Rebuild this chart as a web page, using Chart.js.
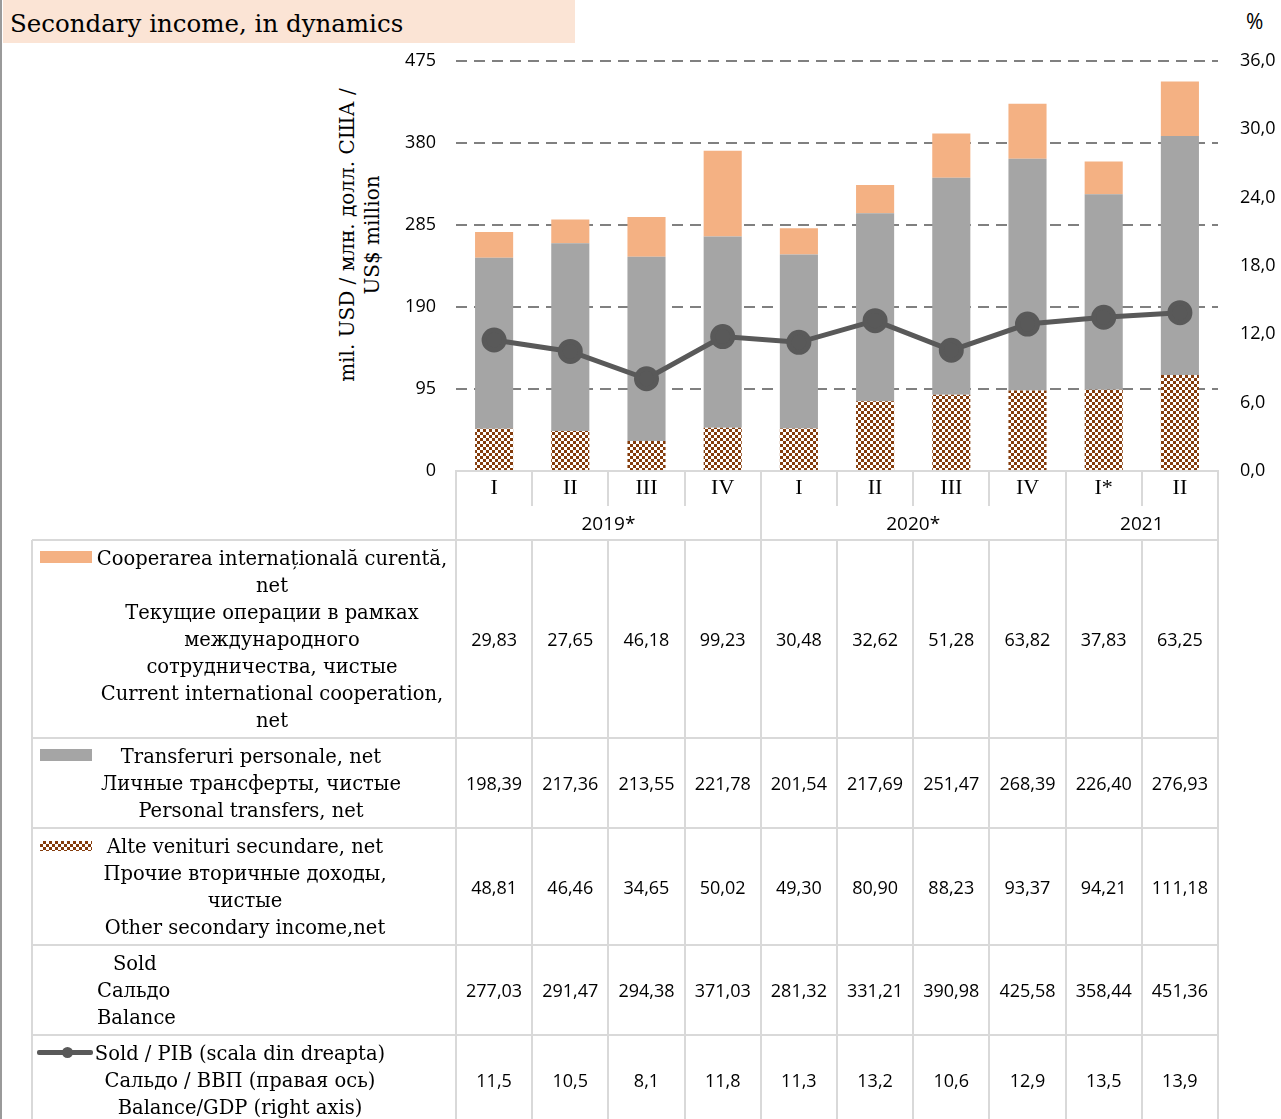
<!DOCTYPE html>
<html>
<head>
<meta charset="utf-8">
<script src="https://cdn.jsdelivr.net/npm/chart.js@4.4.1/dist/chart.umd.min.js"></script>
<style>
  body { margin: 0; background: #fff; }
  #page { position: relative; width: 1281px; height: 1119px; overflow: hidden; background: #fff; font-family: "DejaVu Serif", serif; color: #000; }
  #chart { position: absolute; left: 0; top: 0; }
  .abs { position: absolute; }
  .lbl { position: absolute; display: flex; flex-direction: column; justify-content: center; font-size: 19.5px; line-height: 27px; white-space: nowrap; }
  .num { position: absolute; display: flex; align-items: center; justify-content: center; font-family: "Open Sans", sans-serif; font-size: 18px; }
  .ln { position: absolute; background: #d9d9d9; }
</style>
</head>
<body>
<div id="page">
  <div class="abs" style="left:0;top:0;width:2px;height:1119px;background:#9a9a9a"></div>
  <div class="abs" style="left:3px;top:0;width:572px;height:43px;background:#fbe4d5"></div>
  <div class="abs" style="left:10px;top:8px;font-size:24.5px;line-height:32px">Secondary income, in dynamics</div>
  <div class="abs" style="left:1246px;top:7px;font-family:'Open Sans',sans-serif;font-size:21px">%</div>
  <div class="abs" id="ytitle" style="left:360px;top:236px;width:0;height:0">
    <div style="position:absolute;left:-200px;top:-26px;width:400px;text-align:center;font-size:20px;line-height:25px;transform:rotate(-90deg);white-space:nowrap">mil. USD / млн. долл. США /<br>US$ million</div>
  </div>
  <canvas id="chart" width="1281" height="510"></canvas>
</div>
<script>
var quarters = ["I", "II", "III", "IV", "I", "II", "III", "IV", "I*", "II"];
var years = ["2019*", "2020*", "2021"];
var yearSpans = [4, 4, 2];

var coop = [29.83, 27.65, 46.18, 99.23, 30.48, 32.62, 51.28, 63.82, 37.83, 63.25];
var personal = [198.39, 217.36, 213.55, 221.78, 201.54, 217.69, 251.47, 268.39, 226.40, 276.93];
var other = [48.81, 46.46, 34.65, 50.02, 49.30, 80.90, 88.23, 93.37, 94.21, 111.18];
var balance = [277.03, 291.47, 294.38, 371.03, 281.32, 331.21, 390.98, 425.58, 358.44, 451.36];
var ratio = [11.5, 10.5, 8.1, 11.8, 11.3, 13.2, 10.6, 12.9, 13.5, 13.9];

var labelCoop = ["Cooperarea internațională curentă,", "net", "Текущие операции в рамках", "международного", "сотрудничества, чистые", "Current international cooperation,", "net"];
var labelPersonal = ["Transferuri personale, net", "Личные трансферты, чистые", "Personal transfers, net"];
var labelOther = ["Alte venituri secundare, net", "Прочие вторичные доходы,", "чистые", "Other secondary income,net"];
var labelBalance = ["Sold", "Сальдо", "Balance"];
var labelRatio = ["Sold / PIB (scala din dreapta)", "Сальдо / ВВП (правая ось)", "Balance/GDP (right axis)"];

var orange = "#f4b183";
var grey = "#a5a5a5";
var brown = "#843c0c";
var lineCol = "#595959";

var ctx = document.getElementById("chart").getContext("2d");

// checker pattern for "other" bars
var pc = document.createElement("canvas");
pc.width = 6; pc.height = 6;
var pg = pc.getContext("2d");
pg.fillStyle = "#fff"; pg.fillRect(0, 0, 6, 6);
pg.fillStyle = brown; pg.fillRect(0, 0, 3, 3); pg.fillRect(3, 3, 3, 3);
var checker = ctx.createPattern(pc, "repeat");

function fmt(v, d) { return v.toFixed(d).replace(".", ","); }

var chart = new Chart(ctx, {
  data: {
    labels: quarters,
    datasets: [
      { type: "bar", label: "Alte venituri secundare, net", data: other, backgroundColor: checker, yAxisID: "y", order: 1 },
      { type: "bar", label: "Transferuri personale, net", data: personal, backgroundColor: grey, yAxisID: "y", order: 1 },
      { type: "bar", label: "Cooperarea internațională curentă, net", data: coop, backgroundColor: orange, yAxisID: "y", order: 1 },
      { type: "line", label: "Sold / PIB", data: ratio, yAxisID: "y1", borderColor: lineCol, backgroundColor: lineCol,
        borderWidth: 5, pointRadius: 10, pointHoverRadius: 10, pointBackgroundColor: lineCol, order: 0 }
    ]
  },
  options: {
    responsive: false,
    animation: false,
    barPercentage: 0.5,
    categoryPercentage: 1.0,
    layout: { padding: { top: 61, left: 0, right: 0, bottom: 0 } },
    plugins: { legend: { display: false }, tooltip: { enabled: false } },
    scales: {
      x: {
        stacked: true,
        offset: true,
        grid: { offset: true, drawOnChartArea: false, drawTicks: true, tickLength: 35, color: "#d9d9d9", lineWidth: 2 },
        border: { display: true, color: "#d9d9d9", width: 2 },
        ticks: { font: { family: "Liberation Serif", size: 22 }, color: "#000", padding: -31, maxRotation: 0, autoSkip: false },
        afterFit: function (s) { s.height = 39; }
      },
      y: {
        stacked: true,
        min: 0, max: 475,
        ticks: { stepSize: 95, font: { family: "Open Sans", size: 18 }, color: "#000", padding: 20 },
        grid: { drawTicks: false, lineWidth: 2, color: function (c) { return c.tick && c.tick.value === 0 ? "rgba(0,0,0,0)" : "#808080"; } },
        border: { display: false, dash: [11, 7] },
        afterFit: function (s) { s.width = 456; }
      },
      y1: {
        position: "right",
        min: 0, max: 36,
        ticks: { stepSize: 6, font: { family: "Open Sans", size: 18 }, color: "#000", padding: 22,
          callback: function (v) { return fmt(v, 1); } },
        grid: { display: false, drawTicks: false },
        border: { display: false },
        afterFit: function (s) { s.width = 63; }
      }
    }
  }
});

// table under the chart, columns taken from the x scale
var page = document.getElementById("page");
var xs = chart.scales.x;
var step = (xs.right - xs.left) / quarters.length;
var edges = [];
for (var i = 0; i < quarters.length; i++) edges.push(xs.getPixelForValue(i) - step / 2);
edges.push(xs.getPixelForValue(quarters.length - 1) + step / 2);
var tableLeft = 32;
var yearTop = xs.bottom - 4;
var rowTops = [540, 738, 828, 945, 1035, 1125];

function add(cls, l, t, w, h, html, extra) {
  var d = document.createElement("div");
  d.className = cls;
  d.style.left = l + "px"; d.style.top = t + "px";
  d.style.width = w + "px"; d.style.height = h + "px";
  if (html) d.innerHTML = html;
  if (extra) d.style.cssText += extra;
  page.appendChild(d);
  return d;
}
function hline(x1, x2, y) { add("ln", x1, y - 1, x2 - x1 + 1, 2); }
function vline(x, y1, y2) { add("ln", x - 1, y1, 2, y2 - y1); }

// year row
var k = 0;
vline(edges[0], yearTop, rowTops[0]);
years.forEach(function (yr, j) {
  var a = edges[k], b = edges[k + yearSpans[j]];
  add("num", a, yearTop, b - a, rowTops[0] - yearTop, yr, "font-size:19px");
  vline(b, yearTop, rowTops[0]);
  k += yearSpans[j];
});

// grid lines
rowTops.slice(0, 5).forEach(function (y) { hline(tableLeft, edges[edges.length - 1], y); });
vline(tableLeft, rowTops[0], 1119);
edges.forEach(function (x) { vline(x, rowTops[0], 1119); });

// values
var rows = [coop, personal, other, balance, ratio];
rows.forEach(function (arr, r) {
  arr.forEach(function (v, i) {
    add("num", edges[i], rowTops[r], edges[i + 1] - edges[i], rowTops[r + 1] - rowTops[r], fmt(v, r === 4 ? 1 : 2));
  });
});

// row labels
function label(lines, r, cx, align) {
  var w = 420;
  return add("lbl", align === "left" ? cx : cx - w / 2, rowTops[r], w, rowTops[r + 1] - rowTops[r],
    lines.map(function (s) { return "<div>" + s + "</div>"; }).join(""), "text-align:" + (align || "center"));
}
label(labelCoop, 0, 272);
label(labelPersonal, 1, 251);
label(labelOther, 2, 245);
var bl = label(labelBalance, 3, 97, "left");
bl.firstChild.style.paddingLeft = "16px";
label(labelRatio, 4, 240);

// legend swatches
add("abs", 40, 551, 52, 12, "", "background:" + orange);
add("abs", 40, 749, 52, 12, "", "background:" + grey);
add("abs", 40, 841, 52, 10, "", "background:repeating-conic-gradient(" + brown + " 0 25%, #fff 0 50%) 0 0/6px 6px");
add("abs", 37, 1050, 56, 5, "", "background:" + lineCol + ";border-radius:2px");
add("abs", 62, 1047, 11, 11, "", "background:" + lineCol + ";border-radius:50%");
</script>
</body>
</html>
